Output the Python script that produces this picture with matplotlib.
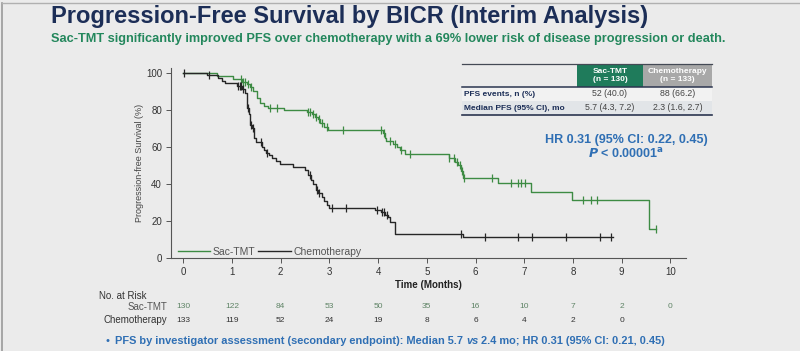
import numpy as np
import matplotlib
matplotlib.use("Agg")
import matplotlib.pyplot as plt
from matplotlib import font_manager as fm
from matplotlib.patches import Rectangle
from matplotlib.lines import Line2D
import matplotlib.transforms as mtransforms

names = {f.name for f in fm.fontManager.ttflist}
NARROW = "Liberation Sans Narrow" if "Liberation Sans Narrow" in names else "Liberation Sans"
SANS = "Liberation Sans"

# ---------------- data ----------------
sac_times = [0, 0.69, 1.03, 1.20, 1.30, 1.37, 1.44, 1.51, 1.58, 1.65, 1.75, 2.06, 2.55, 2.64, 2.70, 2.76,
             2.81, 2.88, 2.98, 4.10, 4.14, 4.17, 4.31, 4.38, 4.45, 4.55, 5.45, 5.57, 5.64, 5.71, 5.74,
             6.46, 7.14, 7.98, 9.56, 9.70]
sac_surv = [100, 98.4, 97.0, 95.4, 94.0, 92.5, 90.0, 86.5, 83.6, 82.0, 81.2, 80.0, 79.0, 78.0, 76.4, 75.0,
            73.0, 71.0, 69.0, 67.4, 65.0, 63.0, 61.5, 60.0, 58.4, 56.0, 54.0, 52.0, 50.0, 47.0, 43.5,
            40.4, 35.9, 31.3, 15.7, 15.7]
sac_censor = [1.18, 1.22, 1.27, 1.33, 1.40, 1.78, 1.92, 2.56, 2.61, 2.66, 2.72, 2.78, 2.85, 2.95, 3.28,
              4.07, 4.12, 4.25, 4.35, 4.47, 4.65, 5.45, 5.55, 5.61, 5.68, 5.72, 5.76, 6.33, 6.72, 6.87,
              6.93, 7.01, 8.20, 8.37, 8.50, 9.70]

chemo_times = [0, 0.49, 0.72, 0.79, 0.85, 1.10, 1.20, 1.27, 1.32, 1.35, 1.38, 1.42, 1.45, 1.50, 1.61, 1.66,
               1.71, 1.77, 1.82, 1.90, 1.99, 2.26, 2.50, 2.57, 2.62, 2.67, 2.72, 2.77, 2.84, 2.88, 2.95,
               3.00, 3.93, 4.07, 4.14, 4.20, 4.25, 4.34, 5.74, 8.82]
chemo_surv = [100, 99.0, 97.5, 95.8, 94.4, 93.0, 91.2, 89.0, 81.0, 78.0, 72.0, 70.0, 65.0, 62.5, 60.2, 58.5,
              57.0, 55.5, 54.0, 52.5, 51.0, 49.4, 47.5, 45.0, 42.0, 40.0, 37.0, 35.0, 33.0, 31.0, 28.5,
              27.0, 25.8, 25.0, 23.5, 22.0, 19.5, 13.0, 11.2, 11.2]
chemo_censor = [0.02, 0.54, 1.13, 1.16, 1.19, 1.23, 1.34, 1.40, 1.44, 1.60, 1.72, 2.61, 2.74, 2.79, 3.06,
                3.35, 3.97, 4.08, 4.13, 4.18, 5.71, 6.20, 6.88, 7.15, 7.85, 8.55, 8.78]

x_ticks = [0, 1, 2, 3, 4, 5, 6, 7, 8, 9, 10]
y_ticks = [0, 20, 40, 60, 80, 100]
sac_risk = [130, 122, 84, 53, 50, 35, 16, 10, 7, 2, 0]
chemo_risk = [133, 119, 52, 24, 19, 8, 6, 4, 2, 0]

table_cols = ["Sac-TMT\n(n = 130)", "Chemotherapy\n(n = 133)"]
table_rows = ["PFS events, n (%)", "Median PFS (95% CI), mo"]
table_vals = [["52 (40.0)", "88 (66.2)"], ["5.7 (4.3, 7.2)", "2.3 (1.6, 2.7)"]]

title = "Progression-Free Survival by BICR (Interim Analysis)"
subtitle = ("Sac-TMT significantly improved PFS over chemotherapy with a 69% lower risk "
            "of disease progression or death.")

# ---------------- style ----------------
BG = "#ebebeb"
GREEN = "#3d8b43"
BLACK = "#262626"
NAVY = "#1c2e57"
SUBGREEN = "#23875c"
BLUE = "#2f6fb4"

W, H = 800, 351
fig = plt.figure(figsize=(W / 100, H / 100), dpi=100, facecolor=BG)

def fx(px):
    return px / W

def fy(py):
    return 1 - py / H

ax = fig.add_axes([fx(171), fy(258), fx(686) - fx(171), fy(68) - fy(258)])
ax.set_facecolor(BG)
ax.set_xlim(-0.25, 10.32)
ax.set_ylim(0, 102.7)

def step_value(times, surv, t):
    idx = np.searchsorted(times, t, side="right") - 1
    return np.asarray(surv)[idx]

ax.step(sac_times, sac_surv, where="post", color=GREEN, lw=1.0, label="Sac-TMT")
ax.step(chemo_times, chemo_surv, where="post", color=BLACK, lw=1.0, label="Chemotherapy")
ax.plot(sac_censor, step_value(sac_times, sac_surv, sac_censor), ls="none", marker="|",
        ms=5.5, mew=0.9, color=GREEN)
ax.plot(chemo_censor, step_value(chemo_times, chemo_surv, chemo_censor), ls="none", marker="|",
        ms=5.5, mew=0.9, color=BLACK)

for s in ["top", "right"]:
    ax.spines[s].set_visible(False)
for s in ["left", "bottom"]:
    ax.spines[s].set_color("#555555")
    ax.spines[s].set_linewidth(0.8)
ax.set_xticks(x_ticks)
ax.set_yticks(y_ticks)
ax.tick_params(axis="both", colors="#555555", labelcolor="#333333", labelsize=7, length=3.5, width=0.7,
               pad=3)
for lab in ax.get_xticklabels() + ax.get_yticklabels():
    lab.set_fontfamily(SANS)
ax.set_ylabel("Progression-free Survival (%)", fontsize=6.5, color="#444444", fontfamily=SANS, labelpad=1)
ax.set_xlabel("Time (Months)", fontsize=7, color="#222222", fontfamily=NARROW, fontweight="bold",
              labelpad=2)

leg = ax.legend(loc="lower left", ncol=2, frameon=False, handlelength=3.1,
                handletextpad=0.25, columnspacing=0.3, borderaxespad=0.0, bbox_to_anchor=(0.005, -0.015),
                prop={"family": SANS, "size": 7.5})
for t in leg.get_texts():
    t.set_color("#555555")

# ---------------- titles ----------------
fig.text(fx(51), fy(17), title, fontsize=17, fontweight="bold", color=NAVY, fontfamily=NARROW,
         va="center", ha="left")
fig.text(fx(51), fy(39), subtitle, fontsize=9.15, fontweight="bold", color=SUBGREEN, fontfamily=NARROW,
         va="center", ha="left")

# ---------------- table ----------------
tx0, tx1, tx2, tx3 = 462, 577, 643, 712
ty0, ty1, ty2, ty3 = 64, 87, 101, 115
fig.add_artist(Rectangle((fx(tx1), fy(ty1)), fx(tx2) - fx(tx1), fy(ty0) - fy(ty1),
                         transform=fig.transFigure, facecolor="#1f7b5b", edgecolor="none"))
fig.add_artist(Rectangle((fx(tx2), fy(ty1)), fx(tx3) - fx(tx2), fy(ty0) - fy(ty1),
                         transform=fig.transFigure, facecolor="#a8a8a8", edgecolor="none"))
fig.add_artist(Rectangle((fx(tx0), fy(ty2)), fx(tx3) - fx(tx0), fy(ty1) - fy(ty2),
                         transform=fig.transFigure, facecolor="#f2f2f2", edgecolor="none"))
fig.add_artist(Rectangle((fx(tx0), fy(ty3)), fx(tx3) - fx(tx0), fy(ty2) - fy(ty3),
                         transform=fig.transFigure, facecolor="#e2e5e8", edgecolor="none"))
for yy, lw, c in [(ty0, 0.9, "#444a55"), (ty1, 1.1, "#2b3550"), (ty3, 1.2, "#2b3550")]:
    fig.add_artist(Line2D([fx(tx0), fx(tx3)], [fy(yy), fy(yy)], transform=fig.transFigure, color=c, lw=lw))
colc = [(tx1 + tx2) / 2, (tx2 + tx3) / 2]
for c, txt in zip(colc, table_cols):
    fig.text(fx(c), fy((ty0 + ty1) / 2), txt, ha="center", va="center", fontsize=6, fontweight="bold",
             color="white", fontfamily=SANS, linespacing=1.25)
rowc = [(ty1 + ty2) / 2, (ty2 + ty3) / 2]
for r, lab, vals in zip(rowc, table_rows, table_vals):
    fig.text(fx(tx0 + 2), fy(r), lab, ha="left", va="center", fontsize=6, fontweight="bold",
             color=NAVY, fontfamily=SANS)
    for c, v in zip(colc, vals):
        fig.text(fx(c), fy(r), v, ha="center", va="center", fontsize=6.3, color="#444444",
                 fontfamily=SANS)

fig.text(fx(626), fy(140), "HR 0.31 (95% CI: 0.22, 0.45)", ha="center", va="center", fontsize=9,
         fontweight="bold", color=BLUE, fontfamily=SANS)
fig.text(fx(626), fy(154), r"$\mathbfit{P}$ < 0.00001$^{\mathbf{a}}$", ha="center", va="center",
         fontsize=9, fontweight="bold", color=BLUE, fontfamily=SANS)

# ---------------- number at risk ----------------
blend = mtransforms.blended_transform_factory(ax.transData, fig.transFigure)
fig.text(fx(99), fy(296), "No. at Risk", ha="left", va="center", fontsize=7, color="#333333",
         fontfamily=NARROW)
fig.text(fx(167), fy(307), "Sac-TMT", ha="right", va="center", fontsize=7, color="#555555",
         fontfamily=NARROW)
fig.text(fx(167), fy(320), "Chemotherapy", ha="right", va="center", fontsize=7, color="#333333",
         fontfamily=NARROW)
for xt, n in zip(x_ticks, sac_risk):
    fig.text(xt, fy(307), str(n), transform=blend, ha="center", va="center", fontsize=6,
             color="#5f8466", fontfamily=NARROW)
for xt, n in zip(x_ticks, chemo_risk):
    fig.text(xt, fy(320), str(n), transform=blend, ha="center", va="center", fontsize=6,
             color="#333333", fontfamily=NARROW)

# ---------------- bullet line ----------------
fig.canvas.draw()
renderer = fig.canvas.get_renderer()
fig.text(fx(105), fy(341), "\u2022", ha="left", va="center", fontsize=8, color=BLUE, fontfamily=SANS)
parts = [("PFS by investigator assessment (secondary endpoint): Median 5.7 ", "normal"),
         ("vs", "italic"),
         (" 2.4 mo; HR 0.31 (95% CI: 0.21, 0.45)", "normal")]
xpos = fx(115)
for txt, style in parts:
    t = fig.text(xpos, fy(341), txt, ha="left", va="center", fontsize=7.95, fontweight="bold",
                 fontstyle=style, color=BLUE, fontfamily=NARROW)
    bb = t.get_window_extent(renderer=renderer)
    xpos += bb.width / W

# frame border
fig.add_artist(Line2D([fx(2), fx(2)], [0, fy(3)], transform=fig.transFigure, color="#9a9a9a", lw=1.2))
fig.add_artist(Line2D([fx(2), 1], [fy(3), fy(3)], transform=fig.transFigure, color="#b0b0b0", lw=1.0))

fig.savefig("out.png", dpi=100, facecolor=BG)
